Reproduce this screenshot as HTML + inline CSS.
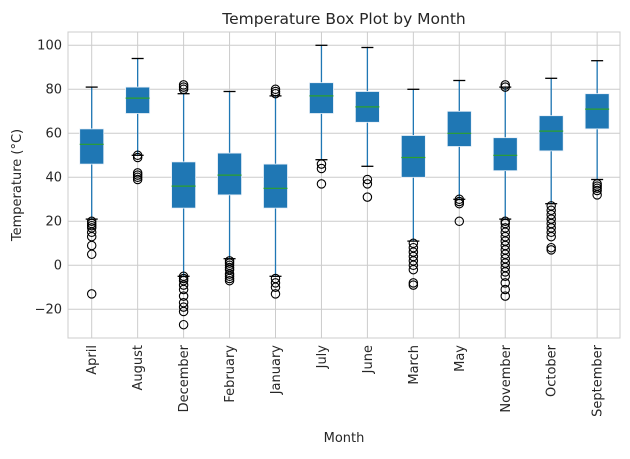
<!DOCTYPE html>
<html><head><meta charset="utf-8"><style>
body{margin:0;background:#fff;font-family:"Liberation Sans","DejaVu Sans",sans-serif}
svg text{font-family:"DejaVu Sans","Liberation Sans",sans-serif;fill:#262626}
</style></head><body>
<svg id="chart" width="630" height="454" viewBox="0 0 630 454" xmlns="http://www.w3.org/2000/svg">
<rect x="0" y="0" width="630" height="454" fill="#fff"/>
<g id="grid"></g><g id="marks"></g><g id="axes"></g>
</svg>
<script>
const categories=["April","August","December","February","January","July","June","March","May","November","October","September"];
const whiskerLow=[21,50,-5,3,-5,48,45,11,30,21,28,39];
const q1=[46,69,26,32,26,69,65,40,54,43,52,62];
const medians=[55,76,36,41,35,77,72,49,60,50,61,71];
const q3=[62,81,47,51,46,83,79,59,70,58,68,78];
const whiskerHigh=[81,94,78,79,77,100,99,80,84,81,85,93];
const outliers=[
 [20,19,18,17,15,13,9,5,-13],
 [50,49,42,41,40,39],
 [82,81,80,-5,-6,-7,-9,-11,-14,-17,-19,-21,-27],
 [2,1,0,-1,-2,-4,-5,-6,-7],
 [80,79,78,-6,-8,-10,-13],
 [46,44,37],
 [39,37,31],
 [10,8,6,4,2,0,-2,-8,-9],
 [30,29,28,20],
 [82,81,20,19,17,15,13,11,9,7,5,3,1,-1,-3,-5,-8,-11,-14],
 [27,25,23,21,19,17,15,13,8,7],
 [37,36,35,34,32]];
const yTicks=[-20,0,20,40,60,80,100];
const L=68,R=620,T=32,B=338;
const y=v=>265.3-2.2*v;
const x=i=>91.7+i*45.95;
const NS="http://www.w3.org/2000/svg";
function mk(tag,attrs,parent,text){const e=document.createElementNS(NS,tag);for(const k in attrs)e.setAttribute(k,attrs[k]);if(text!==undefined)e.textContent=text;parent.appendChild(e);return e;}
const grid=document.getElementById('grid'),marks=document.getElementById('marks'),axes=document.getElementById('axes');
yTicks.forEach(t=>{
 const g=mk('line',{x1:L,x2:R,y1:y(t),y2:y(t),stroke:'#cccccc','stroke-width':1},grid);
 
 
 const tx=mk('text',{x:L-6,y:y(t)+4,'text-anchor':'end','font-size':13},axes,String(t).replace('-','\u2212'));
 
 
});
categories.forEach((c,i)=>{
 const cx=x(i);
 const gl=mk('line',{x1:cx,x2:cx,y1:T,y2:B,stroke:'#cccccc','stroke-width':1},grid);
 
 
 const g=mk('g',{},marks);
 
 
 mk('line',{x1:cx,x2:cx,y1:y(whiskerLow[i]),y2:y(q1[i]),stroke:'#1f77b4','stroke-width':1.3},g);
 mk('line',{x1:cx,x2:cx,y1:y(q3[i]),y2:y(whiskerHigh[i]),stroke:'#1f77b4','stroke-width':1.3},g);
 mk('line',{x1:cx-6,x2:cx+6,y1:y(whiskerLow[i]),y2:y(whiskerLow[i]),stroke:'#000','stroke-width':1.3},g);
 mk('line',{x1:cx-6,x2:cx+6,y1:y(whiskerHigh[i]),y2:y(whiskerHigh[i]),stroke:'#000','stroke-width':1.3},g);
 mk('rect',{x:cx-12,y:y(q3[i]),width:24,height:y(q1[i])-y(q3[i]),fill:'#1f77b4',stroke:'#e8f0f8','stroke-width':0.8},g);
 mk('line',{x1:cx-12,x2:cx+12,y1:y(medians[i]),y2:y(medians[i]),stroke:'#2ca02c','stroke-width':1.2},g);
 outliers[i].forEach(o=>{
  const c2=mk('circle',{cx:cx,cy:y(o),r:4.2,fill:'none',stroke:'#000','stroke-width':1.1},g);
  
  
 });
 const tl=mk('text',{transform:`translate(${cx+4.5},${B+7}) rotate(-90)`,'text-anchor':'end','font-size':13},axes,c);
 
 
});
const fr=mk('rect',{x:L,y:T,width:R-L,height:B-T,fill:'none',stroke:'#cccccc','stroke-width':1},axes);


const ti=mk('text',{x:344,y:24,'text-anchor':'middle','font-size':15.5},axes,'Temperature Box Plot by Month');


const xt=mk('text',{x:344,y:442,'text-anchor':'middle','font-size':13},axes,'Month');


const yt=mk('text',{transform:'translate(21,185) rotate(-90)','text-anchor':'middle','font-size':13},axes,'Temperature (°C)');


</script>
</body></html>
